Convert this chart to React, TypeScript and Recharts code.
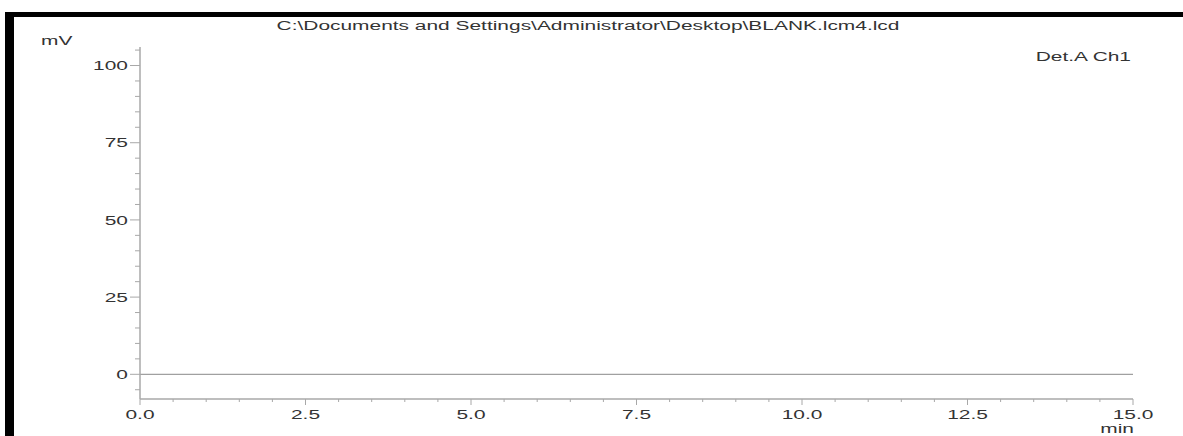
import { LineChart, Line, XAxis, YAxis, Customized } from "recharts";

const TITLE = "C:\\Documents and Settings\\Administrator\\Desktop\\BLANK.lcm4.lcd";
const CHANNEL = "Det.A Ch1";

// blank run: detector signal stays on the baseline
const timeMin = [0, 2.5, 5, 7.5, 10, 12.5, 15];
const signalMv = [0, 0, 0, 0, 0, 0, 0];

const xTicks = [
  0, 0.5, 1, 1.5, 2, 2.5, 3, 3.5, 4, 4.5, 5, 5.5, 6, 6.5, 7, 7.5,
  8, 8.5, 9, 9.5, 10, 10.5, 11, 11.5, 12, 12.5, 13, 13.5, 14, 14.5, 15,
];
const yTicks = [
  -5, 0, 5, 10, 15, 20, 25, 30, 35, 40, 45, 50, 55,
  60, 65, 70, 75, 80, 85, 90, 95, 100, 105,
];

const data = timeMin.map((t, i) => ({ t, mv: signalMv[i] }));

const AXIS = "#a8a8a8";
const INK = "#333";
const FONT = "'Liberation Sans', Arial, sans-serif";
const SX = 1.55; // the export is stretched horizontally

function Txt({ x, y, anchor = "start", children }: any) {
  return (
    <text
      transform={`translate(${x},${y}) scale(${SX},1)`}
      textAnchor={anchor}
      dominantBaseline="central"
      fontFamily={FONT}
      fontSize={13.5}
      fill={INK}
    >
      {children}
    </text>
  );
}

function YTick({ x, y, payload }: any) {
  const v = payload.value;
  const major = v % 25 === 0;
  return (
    <g>
      <line x1={x - (major ? 10 : 5)} x2={x} y1={y} y2={y} stroke={AXIS} />
      {major && <Txt x={x - 12} y={y} anchor="end">{v}</Txt>}
    </g>
  );
}

function XTick({ x, y, payload }: any) {
  const v = payload.value;
  const major = v % 2.5 === 0;
  return (
    <g>
      <line x1={x} x2={x} y1={y} y2={y + (major ? 6 : 3)} stroke={AXIS} />
      {major && <Txt x={x} y={y + 15} anchor="middle">{v.toFixed(1)}</Txt>}
    </g>
  );
}

function Labels() {
  return (
    <g>
      <Txt x={588} y={25} anchor="middle">{TITLE}</Txt>
      <Txt x={41} y={40}>mV</Txt>
      <Txt x={1131} y={56} anchor="end">{CHANNEL}</Txt>
      <Txt x={1134} y={428} anchor="end">min</Txt>
    </g>
  );
}

export default function App() {
  return (
    <div style={{ position: "absolute", left: 0, top: 0, width: 1183, height: 436, background: "#fff" }}>
      <div style={{ position: "absolute", left: 5, top: 12, width: 1178, height: 5, background: "#000" }} />
      <div style={{ position: "absolute", left: 5, top: 12, width: 9, height: 424, background: "#000" }} />
      <LineChart
        width={1183}
        height={436}
        data={data}
        margin={{ top: 47, right: 50, left: 0, bottom: 0 }}
        style={{ position: "absolute", left: 0, top: 0 }}
      >
        <XAxis
          dataKey="t"
          type="number"
          domain={[0, 15]}
          ticks={xTicks}
          interval={0}
          height={37}
          tickSize={0}
          tickMargin={0}
          tick={<XTick />}
          axisLine={{ stroke: AXIS, strokeWidth: 1.5 }}
          tickLine={false}
        />
        <XAxis
          xAxisId="top"
          orientation="top"
          dataKey="t"
          type="number"
          domain={[0, 15]}
          height={0}
          tick={false}
          tickLine={false}
          axisLine={{ stroke: AXIS }}
        />
        <YAxis
          type="number"
          domain={[-8, 106]}
          ticks={yTicks}
          interval={0}
          width={140}
          tickSize={0}
          tickMargin={0}
          tick={<YTick />}
          axisLine={{ stroke: AXIS, strokeWidth: 1.5 }}
          tickLine={false}
          allowDataOverflow
        />
        <YAxis
          yAxisId="right"
          orientation="right"
          type="number"
          domain={[-8, 106]}
          width={0}
          tick={false}
          tickLine={false}
          axisLine={{ stroke: AXIS, strokeWidth: 2 }}
        />
        <Line
          dataKey="mv"
          stroke="#a0a0a0"
          strokeWidth={1.2}
          dot={false}
          isAnimationActive={false}
        />
        <Customized component={Labels} />
      </LineChart>
    </div>
  );
}
